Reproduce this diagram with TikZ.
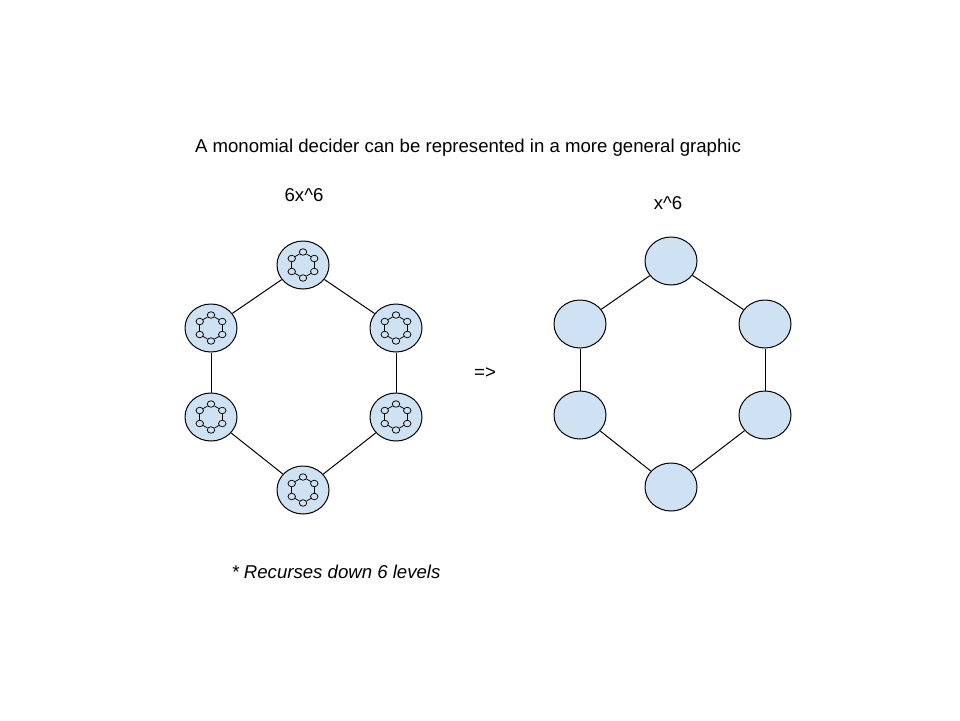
\documentclass[tikz,border=0pt]{standalone}
\usepackage{fontspec}
\setmainfont{Liberation Sans}
\usetikzlibrary{shapes.geometric,calc}
\definecolor{nodefill}{RGB}{207,226,243}
\begin{document}
\begin{tikzpicture}[x=1pt,y=-1pt,
  big/.style={ellipse,draw,fill=nodefill,minimum width=52pt,minimum height=48pt,inner sep=0pt,line width=1pt},
  small/.style={ellipse,draw,fill=nodefill,minimum width=7.5pt,minimum height=6.5pt,inner sep=0pt,line width=0.75pt},
  edge/.style={line width=1pt},
  sedge/.style={line width=0.75pt},
  lbl/.style={font=\fontsize{18.6}{22}\selectfont,inner sep=0pt}]
\path[use as bounding box,fill=white] (0,0) rectangle (960,720);
% labels
\node[lbl] (title) at (468,148) {A monomial decider can be represented in a more general graphic};
\node[lbl] (lt) at (304,195) {6x\textasciicircum 6};
\node[lbl] (rt) at (668,203) {x\textasciicircum 6};
\node[lbl] (arr) at (485,373) {=>};
\node[lbl,font=\fontsize{18.6}{22}\selectfont\itshape] (note) at (336,572) {* Recurses down 6 levels};
% left hexagon
\node[big] (L1) at (303,265) {};
\node[big] (L2) at (396,328) {};
\node[big] (L3) at (396,417) {};
\node[big] (L4) at (303,490) {};
\node[big] (L5) at (211,417) {};
\node[big] (L6) at (211,328) {};
\draw[edge] (L1) -- (L2); \draw[edge] (L2) -- (L3); \draw[edge] (L3) -- (L4);
\draw[edge] (L4) -- (L5); \draw[edge] (L5) -- (L6); \draw[edge] (L6) -- (L1);
% inner hexagons
\foreach \i in {1,...,6}{
  \foreach \a [count=\k] in {-90,-30,30,90,150,210}{
    \node[small] (L\i-\k) at ($(L\i)+(\a:13)$) {};
  }
  \foreach \k [remember=\k as \p (initially 6)] in {1,...,6}{
    \draw[sedge] (L\i-\p) -- (L\i-\k);
  }
}
% right hexagon
\node[big] (R1) at (671,261) {};
\node[big] (R2) at (765,324) {};
\node[big] (R3) at (765,415) {};
\node[big] (R4) at (671,487) {};
\node[big] (R5) at (580,415) {};
\node[big] (R6) at (580,324) {};
\draw[edge] (R1) -- (R2); \draw[edge] (R2) -- (R3); \draw[edge] (R3) -- (R4);
\draw[edge] (R4) -- (R5); \draw[edge] (R5) -- (R6); \draw[edge] (R6) -- (R1);
\end{tikzpicture}
\end{document}
